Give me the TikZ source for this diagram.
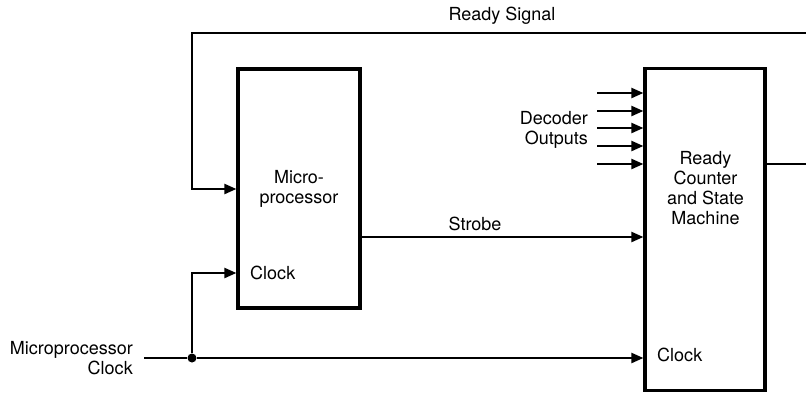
\documentclass[tikz,border=0pt]{standalone}
\usepackage{fontspec}
\setmainfont{TeX Gyre Heros}
\usetikzlibrary{arrows.meta}

\begin{document}
\begin{tikzpicture}[
  x=1pt, y=-1pt,
  font=\fontsize{18}{20}\selectfont,
  box/.style   = {draw, line width=3.2pt, inner sep=0pt, align=center},
  lbl/.style   = {inner sep=0pt, align=center},
  arr/.style   = {-{Triangle[length=12pt, width=10pt]}, line width=2.2pt},
  wire/.style  = {line width=2.2pt},
]
\useasboundingbox (0,0) rectangle (806,394);

%%────────── blocks ──────────────────────────────────────────
\node[box, minimum width=122pt, minimum height=239pt] (mp) at (299,188.5) {Micro-\\processor};
\node[box, minimum width=120pt, minimum height=322pt] (rc) at (705,229.5) {};
\node[lbl] (rctxt) at (705.5,188) {Ready\\Counter\\and State\\Machine};
\node[lbl, anchor=west] (mpclk) at (250,273) {Clock};
\node[lbl, anchor=west] (rcclk) at (657,355) {Clock};

%%────────── labels ──────────────────────────────────────────
\node[lbl] (rdylbl) at (502,16) {Ready Signal};
\node[lbl] (stblbl) at (475,224) {Strobe};
\node[lbl, align=right, anchor=east] (declbl) at (588,129.5) {Decoder\\Outputs};
\node[lbl, align=right, anchor=east] (clklbl) at (133,358.5) {Microprocessor\\Clock};

%%────────── ready signal loop ───────────────────────────────
\coordinate (rdyR) at (806,164);
\coordinate (rdyT) at (806,33);
\coordinate (rdyL) at (192,33);
\coordinate (rdyIn) at (238,189);
\draw[wire] (rc.east |- rdyR) -- (rdyR);
\draw[arr]  (rdyT) -- (rdyL) |- (mp.west |- rdyIn);

%%────────── strobe ──────────────────────────────────────────
\coordinate (stb) at (0,237);
\draw[arr] (mp.east |- stb) -- (rc.west |- stb);

%%────────── decoder outputs ─────────────────────────────────
\foreach \y [count=\i] in {93,111,128,146,164} {
  \coordinate (dec\i) at (597,\y);
  \draw[arr] (dec\i) -- (rc.west |- dec\i);
}

%%────────── clock ───────────────────────────────────────────
\coordinate (clkIn) at (144,358);
\node[circle, fill, inner sep=0pt, minimum size=9pt] (dot) at (192,358) {};
\coordinate (mpclkIn) at (0,273);
\draw[wire] (clkIn) -- (dot);
\draw[arr]  (dot) -- (rc.west |- dot);
\draw[arr]  (dot) |- (mp.west |- mpclkIn);

\end{tikzpicture}
\end{document}
